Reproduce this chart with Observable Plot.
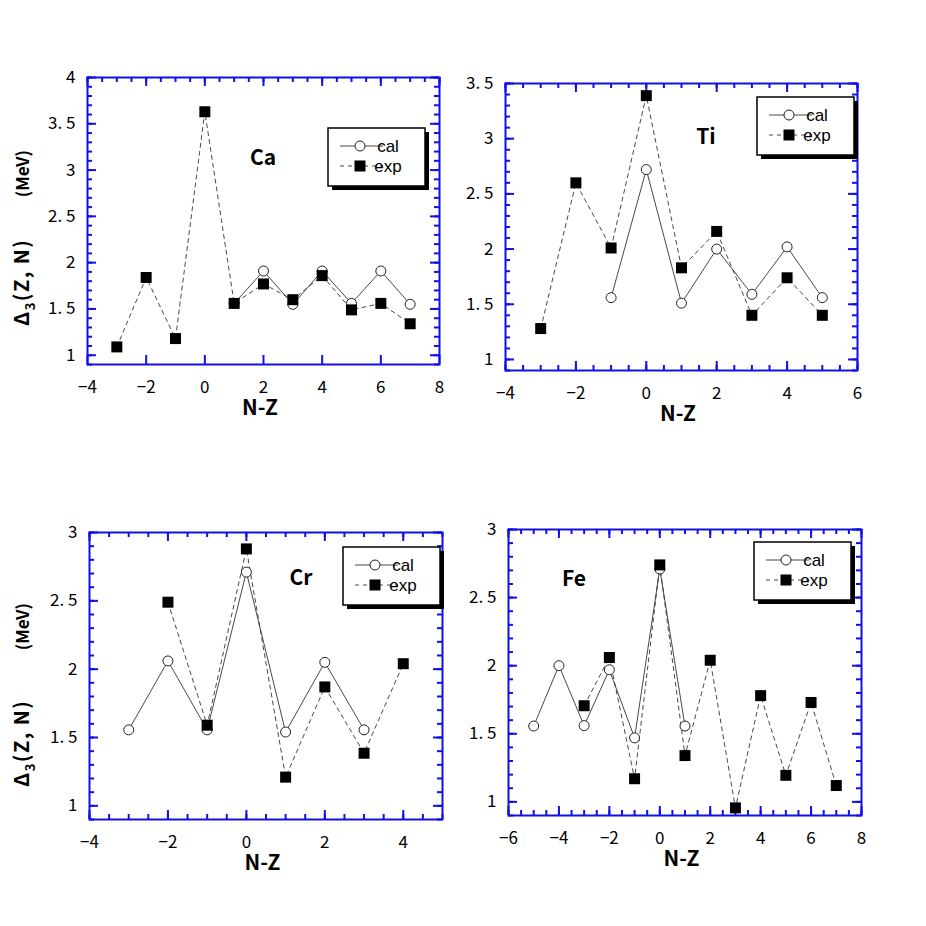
<!DOCTYPE html>
<html><head><meta charset="utf-8">
<script src="https://cdn.jsdelivr.net/npm/d3@7"></script>
<script src="https://cdn.jsdelivr.net/npm/@observablehq/plot@0.6"></script>
<style>
body{margin:0;background:#fff;}
#wrap{position:relative;width:926px;height:926px;background:#fff;overflow:hidden;}
.panel{position:absolute;width:463px;height:463px;}
</style></head><body><div id="wrap"></div>
<script>
// ---- data ----
const caExpX = [-3,-2,-1,0,1,2,3,4,5,6,7];
const caExpY = [1.09,1.84,1.18,3.63,1.56,1.77,1.60,1.86,1.49,1.56,1.34];
const caCalX = [1,2,3,4,5,6,7];
const caCalY = [1.56,1.91,1.55,1.91,1.56,1.91,1.55];

const tiExpX = [-3,-2,-1,0,1,2,3,4,5];
const tiExpY = [1.28,2.60,2.01,3.39,1.83,2.16,1.40,1.74,1.40];
const tiCalX = [-1,0,1,2,3,4,5];
const tiCalY = [1.56,2.72,1.51,2.00,1.59,2.02,1.56];

const crExpX = [-2,-1,0,1,2,3,4];
const crExpY = [2.49,1.59,2.88,1.21,1.87,1.385,2.04];
const crCalX = [-3,-2,-1,0,1,2,3];
const crCalY = [1.556,2.06,1.556,2.71,1.54,2.05,1.556];

const feExpX = [-3,-2,-1,0,1,2,3,4,5,6,7];
const feExpY = [1.706,2.06,1.17,2.74,1.34,2.04,0.956,1.78,1.195,1.73,1.12];
const feCalX = [-5,-4,-3,-2,-1,0,1];
const feCalY = [1.557,2.00,1.56,1.97,1.47,2.71,1.557];

// tick labels
const xTicksCa = [-4,-2,0,2,4,6,8];
const xTicksTi = [-4,-2,0,2,4,6];
const xTicksCr = [-4,-2,0,2,4];
const xTicksFe = [-6,-4,-2,0,2,4,6,8];
const yTicksCa = [1,1.5,2,2.5,3,3.5,4];
const yTicksTi = [1,1.5,2,2.5,3,3.5];
const yTicksCr = [1,1.5,2,2.5,3];
const yTicksFe = [1,1.5,2,2.5,3];

const seriesNames = ["cal","exp"];
const xTitle = "N-Z";
const yTitleA = "\u0394";
const yTitleSub = "3";
const yTitleB = "(Z, N)";
const yTitleUnit = "(MeV)";
const elements = ["Ca","Ti","Cr","Fe"];

const BLUE = "#1010e8";
const FONT = "'Noto Sans CJK JP', 'Noto Sans', sans-serif";
const LFONT = "'Liberation Sans', Arial, sans-serif";

const fmt = d => (d < 0 ? "\u2212" : "") + String(Math.abs(d)).replace(".", ". ");

const panels = [
  {el: elements[0], left:0, top:0, expX:caExpX, expY:caExpY, calX:caCalX, calY:caCalY,
   xd:[-4,8], yd:[0.9,4], xt:xTicksCa, yt:yTicksCa, m:[77,24,99,87], bottomMinor:false,
   legend:[328,128], label:[263,165], ylab:[326,150]},
  {el: elements[1], left:463, top:0, expX:tiExpX, expY:tiExpY, calX:tiCalX, calY:tiCalY,
   xd:[-4,6], yd:[0.9,3.5], xt:xTicksTi, yt:yTicksTi, m:[83,69,93,42], bottomMinor:true,
   legend:[294,97], label:[243,144], ylab:null},
  {el: elements[2], left:0, top:463, expX:crExpX, expY:crExpY, calX:crCalX, calY:crCalY,
   xd:[-4,5], yd:[0.9,3], xt:xTicksCr, yt:yTicksCr, m:[69,21,107,89], bottomMinor:true,
   legend:[343,84], label:[301,122], ylab:[324,140]},
  {el: elements[3], left:463, top:463, expX:feExpX, expY:feExpY, calX:feCalX, calY:feCalY,
   xd:[-6,8], yd:[0.9,3], xt:xTicksFe, yt:yTicksFe, m:[66,65,111,45], bottomMinor:true,
   legend:[291,79], label:[111,123], ylab:null}
];

const wrap = document.getElementById("wrap");

for (const p of panels) {
  const exp = p.expX.map((x,i) => ({x, y:p.expY[i]}));
  const cal = p.calX.map((x,i) => ({x, y:p.calY[i]}));
  const xMinor = d3.range(p.xd[0], p.xd[1] + 1e-9, 0.5);
  const yMinor = d3.range(Math.ceil(p.yd[0]*10)/10, p.yd[1] + 1e-9, 0.1).map(v => Math.round(v*10)/10);
  const [mt, mr, mb, ml] = p.m;
  const H = 463 - mt - mb, W = 463 - ml - mr;
  const MAJ = 9, MIN = 5;
  const tk = {stroke: BLUE, strokeWidth: 2};
  const chart = Plot.plot({
    width: 463, height: 463,
    marginTop: mt, marginRight: mr, marginBottom: mb, marginLeft: ml,
    style: {fontFamily: FONT},
    x: {domain: p.xd},
    y: {domain: p.yd},
    marks: [
      // inward ticks on all four sides
      Plot.ruleX(xMinor, {...tk, insetBottom: H - MIN}),
      ...(p.bottomMinor ? [Plot.ruleX(xMinor, {...tk, insetTop: H - MIN})] : []),
      Plot.ruleX(p.xt, {...tk, insetTop: H - MAJ}),
      Plot.ruleX(p.xt, {...tk, insetBottom: H - MAJ}),
      Plot.ruleY(yMinor, {...tk, insetRight: W - MIN}),
      Plot.ruleY(yMinor, {...tk, insetLeft: W - MIN}),
      Plot.ruleY(p.yt, {...tk, insetRight: W - MAJ}),
      Plot.ruleY(p.yt, {...tk, insetLeft: W - MAJ}),
      // tick labels
      Plot.axisX(p.xt, {anchor: "bottom", tickSize: 0, tickPadding: 16, fontSize: 17, tickFormat: fmt, label: null}),
      Plot.axisY(p.yt, {anchor: "left", tickSize: 0, tickPadding: 12, fontSize: 17, tickFormat: fmt, label: null}),
      Plot.frame({stroke: BLUE, strokeWidth: 2}),
      // data
      Plot.line(exp, {x: "x", y: "y", stroke: "#333", strokeWidth: 0.9, strokeDasharray: "4,4"}),
      Plot.line(cal, {x: "x", y: "y", stroke: "#333", strokeWidth: 0.9}),
      Plot.dot(cal, {x: "x", y: "y", r: 5, fill: "white", stroke: "#222", strokeWidth: 1}),
      Plot.dot(exp, {x: "x", y: "y", symbol: "square", r: 6.2, fill: "black", stroke: "black", strokeWidth: 0})
    ]
  });
  const div = document.createElement("div");
  div.className = "panel";
  div.style.left = p.left + "px";
  div.style.top = p.top + "px";
  div.appendChild(chart);
  wrap.appendChild(div);

  const svg = d3.select(chart);
  const x0 = ml, y1 = 463 - mb;
  const frameCx = x0 + W / 2;
  // x title
  svg.append("text").attr("x", frameCx - 3).attr("y", y1 + 51)
    .attr("text-anchor", "middle").attr("font-family", FONT).attr("font-weight", "bold")
    .attr("font-size", 21).attr("fill", "black").text(xTitle);
  // element label
  svg.append("text").attr("x", p.label[0]).attr("y", p.label[1])
    .attr("text-anchor", "middle").attr("font-family", FONT).attr("font-weight", "bold")
    .attr("font-size", 21).attr("fill", "black").text(p.el);
  // y title
  if (p.ylab) {
    const t = svg.append("text").attr("transform", `translate(29,${p.ylab[0]}) rotate(-90)`)
      .attr("text-anchor", "start").attr("font-family", FONT).attr("font-weight", "bold")
      .attr("font-size", 20).attr("letter-spacing", 1.5).attr("fill", "black");
    t.append("tspan").text(yTitleA);
    t.append("tspan").attr("font-size", 13).attr("dy", 6).text(yTitleSub);
    t.append("tspan").attr("dy", -6).text(yTitleB);
    svg.append("text").attr("transform", `translate(29,${p.ylab[1]}) rotate(-90)`)
      .attr("text-anchor", "end").attr("font-family", FONT).attr("font-weight", "bold")
      .attr("font-size", 17).attr("fill", "black").text(yTitleUnit);
  }
  // legend
  const [lx, ly] = p.legend;
  const g = svg.append("g").attr("transform", `translate(${lx},${ly})`);
  g.append("rect").attr("x", 4).attr("y", 4).attr("width", 97).attr("height", 58).attr("fill", "black");
  g.append("rect").attr("x", 0).attr("y", 0).attr("width", 97).attr("height", 58)
    .attr("fill", "white").attr("stroke", "black").attr("stroke-width", 1.5);
  const rows = [{name: seriesNames[0], y: 18, dash: null}, {name: seriesNames[1], y: 38, dash: "4,4"}];
  for (const r of rows) {
    g.append("line").attr("x1", 12).attr("x2", 55).attr("y1", r.y).attr("y2", r.y)
      .attr("stroke", "#333").attr("stroke-width", 0.9).attr("stroke-dasharray", r.dash);
    if (r.dash) {
      g.append("rect").attr("x", 32 - 5.5).attr("y", r.y - 5.5).attr("width", 11).attr("height", 11).attr("fill", "black");
    } else {
      g.append("circle").attr("cx", 32).attr("cy", r.y).attr("r", 5).attr("fill", "white").attr("stroke", "#222");
    }
    g.append("text").attr("x", 60).attr("y", r.y + 6).attr("font-family", LFONT)
      .attr("font-size", 17).attr("fill", "black").text(r.name);
  }
}
</script>
</body></html>
